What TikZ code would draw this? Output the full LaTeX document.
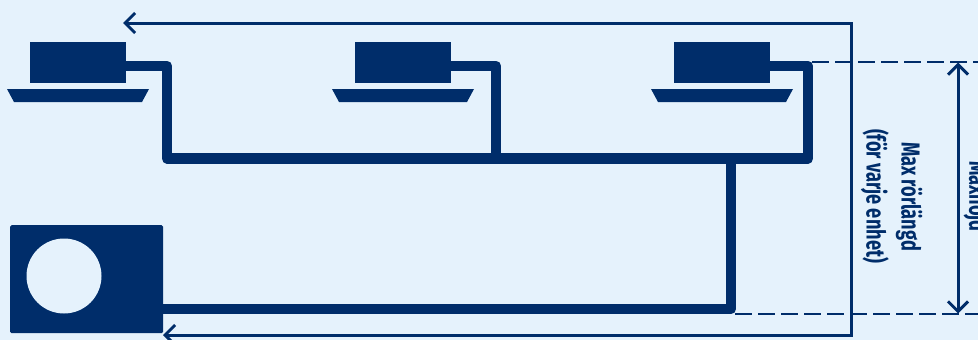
\documentclass[tikz,border=0pt]{standalone}
\usepackage{fontspec}
\setmainfont{Fira Sans}
\usetikzlibrary{arrows.meta}
\definecolor{navy}{HTML}{002D6A}
\definecolor{bgc}{HTML}{E5F2FC}
\tikzset{
  unitbox/.style={fill=navy,inner sep=0pt,minimum width=96pt,minimum height=41pt,anchor=north west},
  tray/.style={fill=navy},
  pipe/.style={draw=navy,line width=10.5pt,line join=round},
  outline/.style={draw=navy,line width=3pt,-{Straight Barb[length=10pt,width=20pt,line width=3pt]}},
  guide/.style={draw=navy,line width=1.2pt,dash pattern=on 17pt off 6pt},
  dim/.style={draw=navy,line width=3pt,{Straight Barb[length=10pt,width=20pt,line width=3pt]}-{Straight Barb[length=10pt,width=20pt,line width=3pt]}},
  lbl/.style={text=navy,rotate=-90,inner sep=0pt,font=\fontsize{26}{28}\selectfont\bfseries,xscale=0.7,align=center}
}
\begin{document}
\begin{tikzpicture}[x=1pt,y=-1pt]
\useasboundingbox (0,0) rectangle (978,340);
\clip (0,0) rectangle (978,340);
\fill[bgc] (0,0) rectangle (978,340);
% indoor units
\node[unitbox] (u1) at (30,42) {};
\node[unitbox] (u2) at (355,42) {};
\node[unitbox] (u3) at (674,42) {};
\fill[tray] (7,89) -- (149,89) -- (142,102) -- (14,102) -- cycle;
\fill[tray] (332,89) -- (474,89) -- (467,102) -- (339,102) -- cycle;
\fill[tray] (651,89) -- (793,89) -- (786,102) -- (658,102) -- cycle;
% outdoor unit
\node[fill=navy,rounded corners=1.5pt,inner sep=0pt,minimum width=153pt,minimum height=108pt,anchor=north west] (out) at (10,225) {};
\node[circle,fill=bgc,inner sep=0pt,minimum size=75pt] (fan) at (64,276) {};
% pipe ends
\coordinate (p1) at (126,66);
\coordinate (p2) at (451,66);
\coordinate (p3) at (770,66);
\coordinate (p4) at (163,309);
\coordinate (c1) at (167,158.5);
\coordinate (c2) at (496,158.5);
\coordinate (c3) at (808,158.5);
\coordinate (c4) at (731,158.5);
\draw[pipe] (p1) -- (p1 -| c1) -- (c1) -- (c3) -- (p3 -| c3) -- (p3);
\draw[pipe] (p2) -- (p2 -| c2) -- (c2);
\draw[pipe] (c4) -- (c4 |- p4) -- (p4);
% length outline
\coordinate (a1) at (851,23);
\coordinate (a2) at (851,335);
\coordinate (e1) at (123,23);
\coordinate (e2) at (163,335);
\draw[outline] (a2) -- (e2);
\draw[outline] (a1) -- (e1);
\draw[draw=navy,line width=3pt,line cap=rect] (a1) -- (a2);
% height guides
\coordinate (g1) at (812,62);
\coordinate (g2) at (978,62);
\coordinate (g3) at (735,314);
\coordinate (g4) at (978,314);
\draw[guide] (g1) -- (g2);
\draw[guide] (g3) -- (g4);
\coordinate (d1) at (958,62.5);
\coordinate (d2) at (958,313.5);
\draw[dim] (d1) -- (d2);
% labels
\node[lbl] (t1) at (909,196.5) {Max rörlängd};
\node[lbl] (t2) at (875,196) {(för varje enhet)};
\node[lbl] (t3) at (977,196.5) {Maxhöjd};
\end{tikzpicture}
\end{document}
